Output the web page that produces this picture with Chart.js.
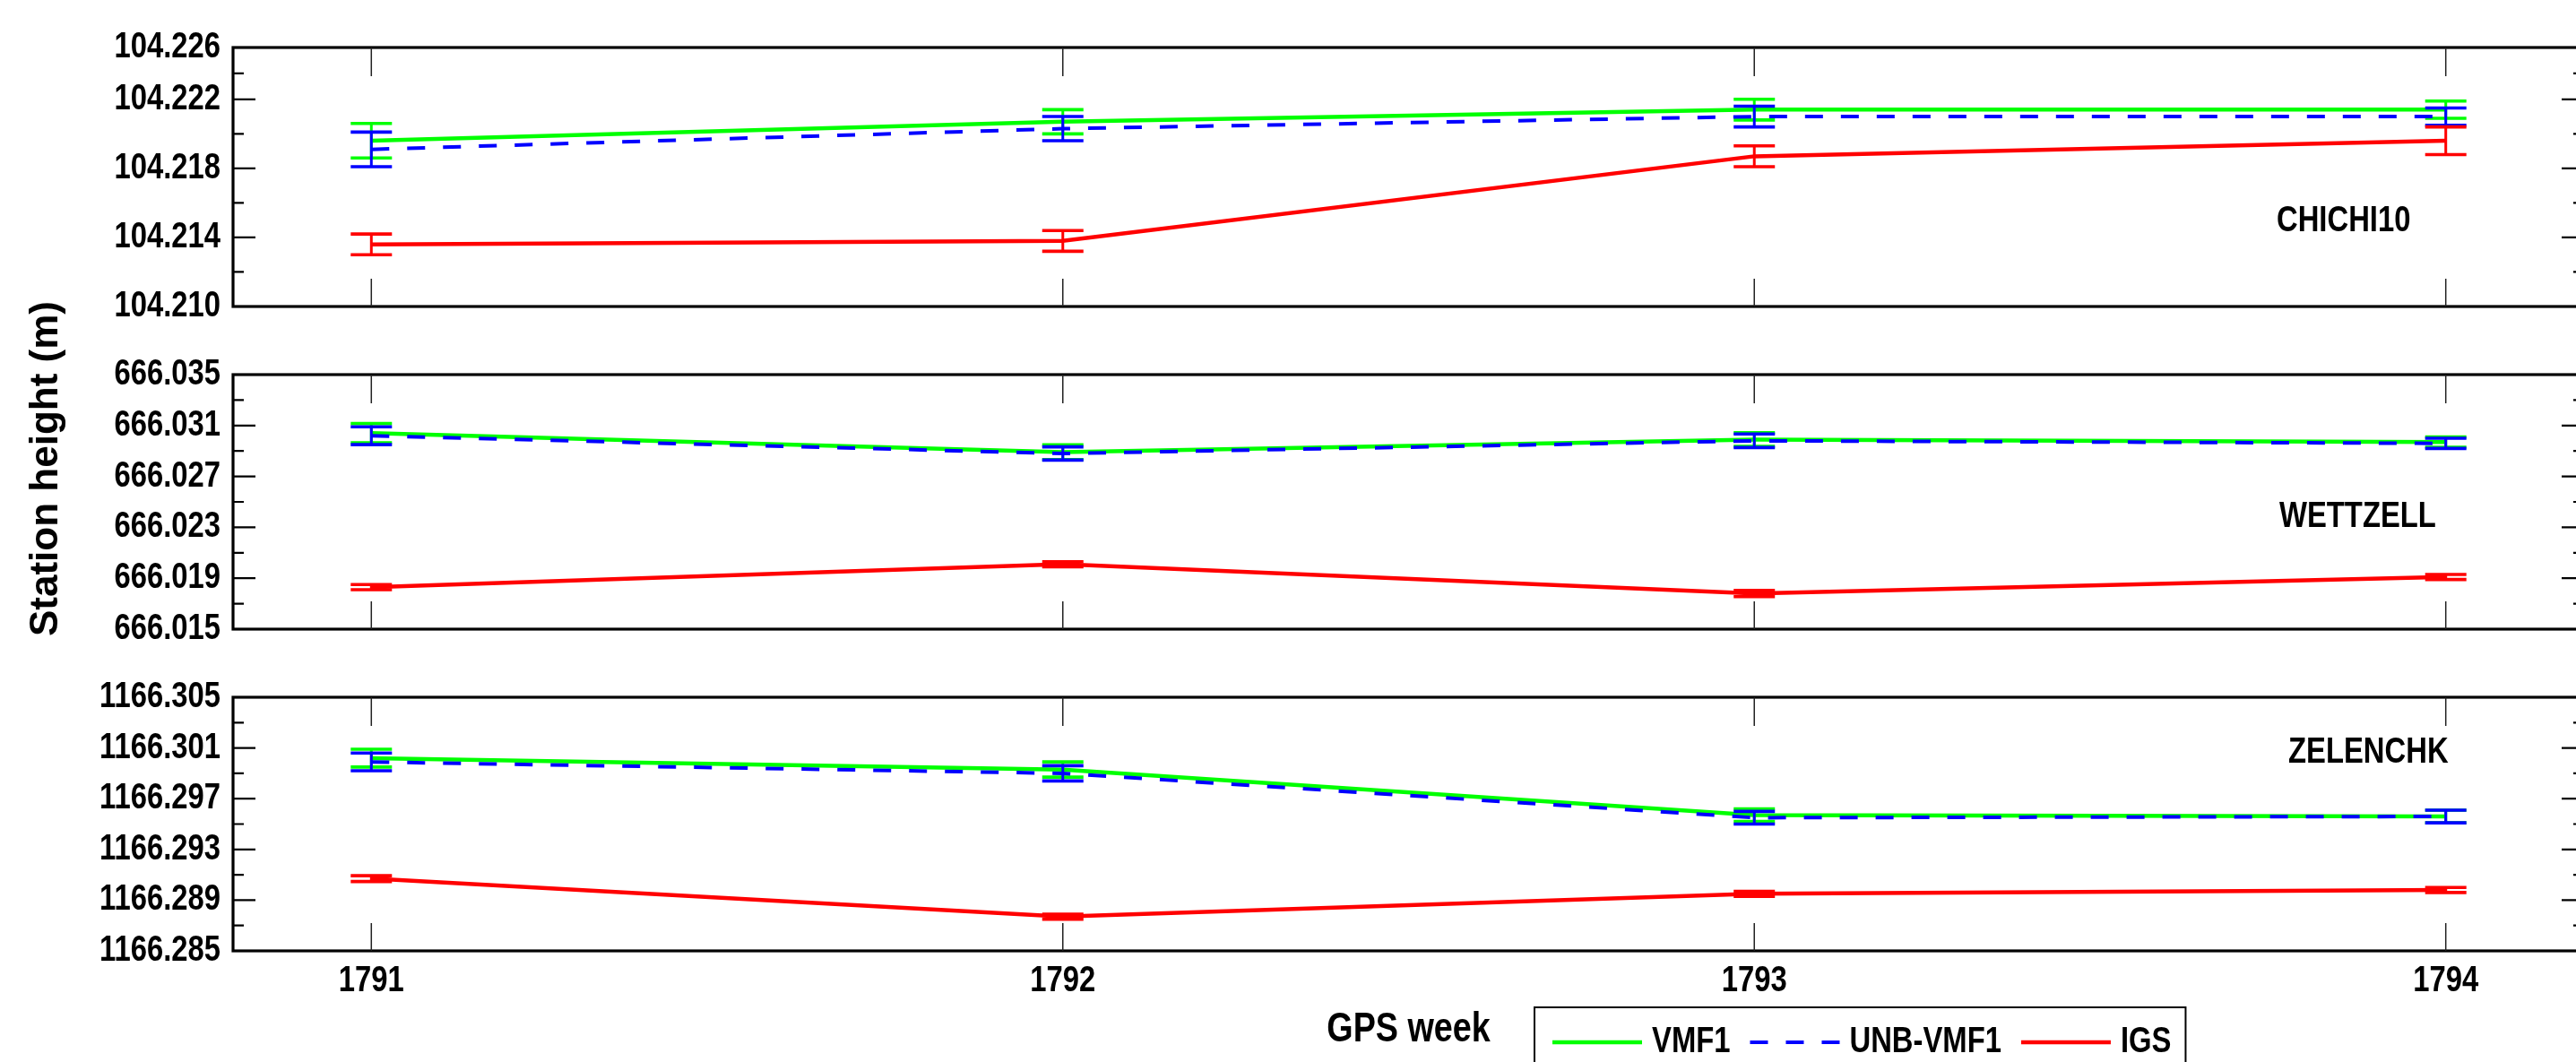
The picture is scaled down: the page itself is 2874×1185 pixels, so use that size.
<!DOCTYPE html>
<html>
<head>
<meta charset="utf-8">
<script src="https://cdn.jsdelivr.net/npm/chart.js@4.4.1/dist/chart.umd.min.js"></script>
<style>
  html, body { margin: 0; padding: 0; background: #fff; width: 2874px; height: 1185px; overflow: hidden; }
  .panel { position: absolute; left: 0; }
  #ytitle {
    position: absolute; left: 49px; top: 523px;
    transform: translate(-50%, -50%) rotate(-90deg);
    font: bold 44px 'Liberation Sans', Arial, sans-serif;
    white-space: nowrap; color: #000;
  }
</style>
</head>
<body>
<div class="panel" style="top:0"><canvas id="chichi" width="2900" height="380"></canvas></div>
<div class="panel" style="top:380px"><canvas id="wettzell" width="2900" height="360"></canvas></div>
<div class="panel" style="top:740px"><canvas id="zelenchk" width="2900" height="445"></canvas></div>
<div id="ytitle">Station height (m)</div>

<script>
// GPS weeks on the x axis
const weeks = [1791, 1792, 1793, 1794];
const seriesNames = ['VMF1', 'UNB-VMF1', 'IGS'];

// CHICHI10
const chichiVmf1 = [104.2196, 104.2207, 104.2214, 104.2214];
const chichiVmf1Err = [0.0010, 0.0007, 0.0006, 0.0005];
const chichiUnb = [104.2191, 104.2203, 104.2210, 104.2210];
const chichiUnbErr = [0.0010, 0.0007, 0.0006, 0.0005];
const chichiIgs = [104.2136, 104.2138, 104.2187, 104.2196];
const chichiIgsErr = [0.0006, 0.0006, 0.0006, 0.0008];
const chichiTicks = [104.210, 104.214, 104.218, 104.222, 104.225];
const chichiTickLabels = ['104.210', '104.214', '104.218', '104.222', '104.226'];
const chichiMinor = [104.212, 104.216, 104.220, 104.2235];

// WETTZELL
const wettVmf1 = [666.0304, 666.0289, 666.0299, 666.0297];
const wettVmf1Err = [0.00075, 0.00058, 0.00053, 0.0004];
const wettUnb = [666.0302, 666.0288, 666.0298, 666.0296];
const wettUnbErr = [0.0007, 0.00052, 0.00053, 0.0004];
const wettIgs = [666.0183, 666.0201, 666.0178, 666.0191];
const wettIgsErr = [0.0002, 0.0002, 0.00025, 0.0002];
const wettTicks = [666.015, 666.019, 666.023, 666.027, 666.031, 666.035];
const wettTickLabels = ['666.015', '666.019', '666.023', '666.027', '666.031', '666.035'];
const wettMinor = [666.017, 666.021, 666.025, 666.029, 666.033];

// ZELENCHK
const zelVmf1 = [1166.3002, 1166.2993, 1166.2957, 1166.2956];
const zelVmf1Err = [0.0007, 0.0006, 0.0005, 0.0005];
const zelUnb = [1166.2999, 1166.2990, 1166.2955, 1166.2956];
const zelUnbErr = [0.0007, 0.0006, 0.0005, 0.0005];
const zelIgs = [1166.2907, 1166.2877, 1166.2895, 1166.2898];
const zelIgsErr = [0.00023, 0.0002, 0.0002, 0.0002];
const zelTicks = [1166.285, 1166.289, 1166.293, 1166.297, 1166.301, 1166.305];
const zelTickLabels = ['1166.285', '1166.289', '1166.293', '1166.297', '1166.301', '1166.305'];
const zelMinor = [1166.287, 1166.291, 1166.295, 1166.299, 1166.303];

const FONT = "'Liberation Sans', Arial, sans-serif";
const SQUEEZE = 0.82; // no Arial Narrow here, so squeeze Arial-metric text sideways
const COLORS = ['#00ff00', '#0000ff', '#ff0000'];

// every fillText on the chart canvas gets squeezed around its anchor point
const narrowText = {
    id: 'narrowText',
    beforeInit(chart) {
        const ctx = chart.ctx;
        const fill = ctx.fillText.bind(ctx);
        ctx.fillText = function (text, x, y, maxWidth) {
            ctx.save();
            ctx.translate(x, y);
            ctx.scale(SQUEEZE, 1);
            fill(text, 0, 0);
            ctx.restore();
        };
    }
};

// error bars, drawn right after each line so the stacking follows the lines
const errorBars = {
    id: 'errorBars',
    afterDatasetDraw(chart, args) {
        const ds = chart.data.datasets[args.index];
        const ys = chart.scales.y;
        const ctx = chart.ctx;
        ctx.save();
        ctx.strokeStyle = ds.borderColor;
        ctx.setLineDash([]);
        args.meta.data.forEach((pt, i) => {
            const top = ys.getPixelForValue(ds.data[i].y + ds.errors[i]);
            const bot = ys.getPixelForValue(ds.data[i].y - ds.errors[i]);
            ctx.lineWidth = 3;
            ctx.beginPath();
            ctx.moveTo(pt.x, top);
            ctx.lineTo(pt.x, bot);
            ctx.stroke();
            ctx.lineWidth = 3.6;
            ctx.beginPath();
            ctx.moveTo(pt.x - 23, top); ctx.lineTo(pt.x + 23, top);
            ctx.moveTo(pt.x - 23, bot); ctx.lineTo(pt.x + 23, bot);
            ctx.stroke();
        });
        ctx.restore();
    }
};

// box, inward ticks, station name
const frame = {
    id: 'frame',
    afterDraw(chart, args, opts) {
        const { ctx, chartArea: a, scales } = chart;
        ctx.save();
        ctx.strokeStyle = '#000';
        ctx.lineWidth = 3.2;
        ctx.strokeRect(a.left, a.top, a.right - a.left, a.bottom - a.top);

        ctx.lineWidth = 2.2;
        const yTick = (v, len) => {
            const py = scales.y.getPixelForValue(v);
            ctx.beginPath();
            ctx.moveTo(a.left, py); ctx.lineTo(a.left + len, py);
            ctx.moveTo(a.right, py); ctx.lineTo(a.right - len, py);
            ctx.stroke();
        };
        opts.major.forEach(v => yTick(v, 25));
        opts.minor.forEach(v => yTick(v, 12));

        ctx.lineWidth = 1.5;
        ctx.strokeStyle = '#222';
        weeks.forEach(w => {
            const px = scales.x.getPixelForValue(w);
            ctx.beginPath();
            ctx.moveTo(px, a.top); ctx.lineTo(px, a.top + 32);
            ctx.moveTo(px, a.bottom); ctx.lineTo(px, a.bottom - 31);
            ctx.stroke();
        });

        ctx.fillStyle = '#000';
        ctx.font = 'bold 40px ' + FONT;
        ctx.textBaseline = 'middle';
        ctx.textAlign = 'left';
        ctx.fillText(opts.station, a.left + opts.dx, a.top + opts.dy);
        ctx.restore();
    }
};

// boxed legend under the bottom panel
const lineLegend = {
    id: 'lineLegend',
    afterDraw(chart, args, opts) {
        if (!opts.show) return;
        const { ctx, chartArea: a } = chart;
        const left = a.left + 1452;
        const top = a.bottom + 63;
        const cy = top + 39;
        ctx.save();
        ctx.font = 'bold 40px ' + FONT;
        ctx.textBaseline = 'middle';
        ctx.textAlign = 'left';
        let x = left + 20;
        chart.data.datasets.forEach(ds => {
            ctx.strokeStyle = ds.borderColor;
            ctx.lineWidth = ds.borderWidth;
            ctx.setLineDash(ds.borderDash || []);
            ctx.beginPath();
            ctx.moveTo(x, cy); ctx.lineTo(x + 100, cy);
            ctx.stroke();
            x += 111;
            ctx.fillStyle = '#000';
            ctx.fillText(ds.label, x, cy);
            x += ctx.measureText(ds.label).width * SQUEEZE + 22;
        });
        ctx.setLineDash([]);
        ctx.strokeStyle = '#000';
        ctx.lineWidth = 2;
        ctx.strokeRect(left, top, x - 22 + 16 - left, 120);
        ctx.restore();
    }
};

function makePanel(id, cfg) {
    const values = [cfg.vmf1, cfg.unb, cfg.igs];
    const errors = [cfg.vmf1Err, cfg.unbErr, cfg.igsErr];
    const datasets = seriesNames.map((name, k) => ({
        label: name,
        data: weeks.map((w, i) => ({ x: w, y: values[k][i] })),
        errors: errors[k],
        borderColor: COLORS[k],
        backgroundColor: COLORS[k],
        borderWidth: k === 1 ? 4 : 4.5,
        borderDash: k === 1 ? [20, 20] : [],
        pointRadius: 0,
        tension: 0,
        fill: false,
        order: 3 - k
    }));

    new Chart(document.getElementById(id), {
        type: 'line',
        data: { datasets: datasets },
        options: {
            responsive: false,
            animation: false,
            events: [],
            layout: { padding: { top: cfg.padTop, right: 17, left: 0, bottom: 0 } },
            scales: {
                x: {
                    type: 'linear',
                    min: 1790.8,
                    max: 1794.2,
                    afterBuildTicks: s => { s.ticks = weeks.map(v => ({ value: v })); },
                    afterFit: s => { s.height = cfg.xHeight; },
                    ticks: {
                        display: cfg.showX,
                        callback: v => String(v),
                        color: '#000',
                        font: { family: FONT, size: 40, weight: 'bold' },
                        padding: 10,
                        autoSkip: false,
                        maxRotation: 0
                    },
                    grid: { display: false, drawTicks: false },
                    border: { display: false },
                    title: {
                        display: cfg.showX,
                        text: 'GPS week',
                        color: '#000',
                        font: { family: FONT, size: 46, weight: 'bold' },
                        padding: { top: 0, bottom: 8 }
                    }
                },
                y: {
                    min: cfg.min,
                    max: cfg.max,
                    afterBuildTicks: s => { s.ticks = cfg.ticks.map(v => ({ value: v })); },
                    afterFit: s => { s.width = 260; },
                    ticks: {
                        callback: (v, i) => cfg.tickLabels[i],
                        color: '#000',
                        font: { family: FONT, size: 40, weight: 'bold' },
                        padding: 14,
                        autoSkip: false
                    },
                    grid: { display: false, drawTicks: false },
                    border: { display: false }
                }
            },
            plugins: {
                legend: { display: false },
                tooltip: { enabled: false },
                frame: { major: cfg.ticks, minor: cfg.minor, station: cfg.station, dx: cfg.labelDx, dy: cfg.labelDy },
                lineLegend: { show: cfg.showX }
            }
        },
        plugins: [narrowText, errorBars, frame, lineLegend]
    });
}

makePanel('chichi', {
    vmf1: chichiVmf1, vmf1Err: chichiVmf1Err, unb: chichiUnb, unbErr: chichiUnbErr, igs: chichiIgs, igsErr: chichiIgsErr,
    min: 104.210, max: 104.225, ticks: chichiTicks, tickLabels: chichiTickLabels, minor: chichiMinor,
    station: 'CHICHI10', labelDx: 2280, labelDy: 194,
    padTop: 53, xHeight: 37, showX: false
});
makePanel('wettzell', {
    vmf1: wettVmf1, vmf1Err: wettVmf1Err, unb: wettUnb, unbErr: wettUnbErr, igs: wettIgs, igsErr: wettIgsErr,
    min: 666.015, max: 666.035, ticks: wettTicks, tickLabels: wettTickLabels, minor: wettMinor,
    station: 'WETTZELL', labelDx: 2283, labelDy: 159,
    padTop: 27, xHeight: 34, showX: false
});
makePanel('zelenchk', {
    vmf1: zelVmf1, vmf1Err: zelVmf1Err, unb: zelUnb, unbErr: zelUnbErr, igs: zelIgs, igsErr: zelIgsErr,
    min: 1166.285, max: 1166.305, ticks: zelTicks, tickLabels: zelTickLabels, minor: zelMinor,
    station: 'ZELENCHK', labelDx: 2293, labelDy: 62,
    padTop: 27, xHeight: 124, showX: true
});
</script>
</body>
</html>
